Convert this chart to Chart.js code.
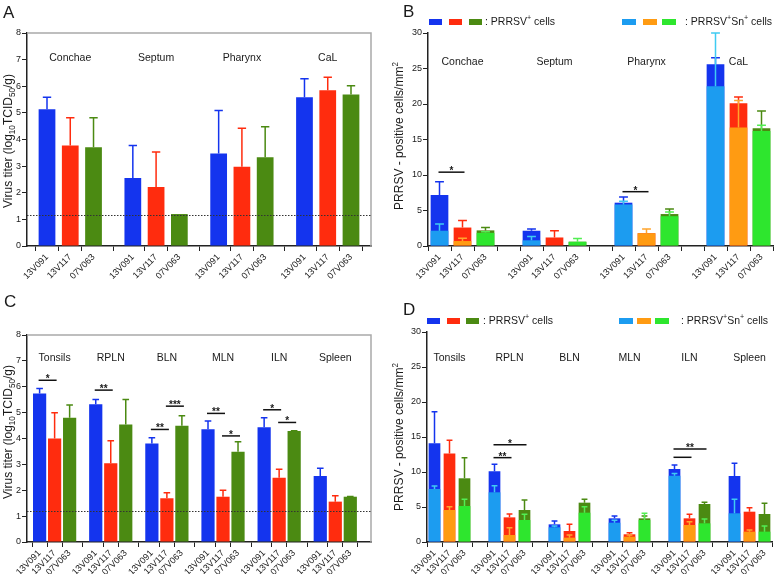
<!DOCTYPE html>
<html>
<head>
<meta charset="utf-8">
<script src="https://cdn.jsdelivr.net/npm/chart.js@4.4.0/dist/chart.umd.min.js"></script>
<style>
  body { margin: 0; background: #fff; }
  #fig { position: relative; width: 778px; height: 574px; overflow: hidden; background: #fff; }
  .pane { position: absolute; }
</style>
</head>
<body>
<div id="fig">
  <div class="pane" style="left:0;top:0;width:390px;height:285px"><canvas id="cA"></canvas></div>
  <div class="pane" style="left:390px;top:0;width:388px;height:285px"><canvas id="cB"></canvas></div>
  <div class="pane" style="left:0;top:285px;width:390px;height:289px"><canvas id="cC"></canvas></div>
  <div class="pane" style="left:390px;top:285px;width:388px;height:289px"><canvas id="cD"></canvas></div>
</div>
<script>
var FONT = "'Liberation Sans', Arial, sans-serif";
var INK = '#1a1a1a';

var strains = ['13V091', '13V117', '07V063'];
var nasalSites = ['Conchae', 'Septum', 'Pharynx', 'CaL'];
var lymphSites = ['Tonsils', 'RPLN', 'BLN', 'MLN', 'ILN', 'Spleen'];

// A - virus titer in nasal tissues (mean and top of the SD whisker)
var titerNasal    = [[5.14, 3.77, 3.71], [2.55, 2.22, 1.2], [3.47, 2.98, 3.33], [5.59, 5.85, 5.69]];
var titerNasalTop = [[5.59, 4.82, 4.82], [3.77, 3.53, null], [5.09, 4.42, 4.48], [6.28, 6.34, 6.02]];

// B - PRRSV+ cells and PRRSV+Sn+ cells in nasal tissues
var cellsNasal    = [[7.2, 2.6, 2.2], [2.15, 1.2, 0.6], [6.1, 1.8, 4.5], [25.6, 20.1, 16.6]];
var cellsNasalTop = [[9.05, 3.6, 2.6], [2.4, 2.15, null], [6.9, null, 5.2], [26.5, 21.0, 19.0]];
var snNasal       = [[2.15, 0.7, 1.85], [0.8, 0, 0.6], [5.85, 1.8, 4.2], [22.5, 16.7, 16.2]];
var snNasalTop    = [[3.1, 1.1, 2.0], [1.35, null, 1.05], [6.3, 2.4, 4.8], [30, 20.5, 17.0]];

// C - virus titer in lymphoid tissues
var titerLymph    = [[5.74, 4.0, 4.8], [5.32, 3.04, 4.54], [3.81, 1.69, 4.49], [4.36, 1.75, 3.49], [4.43, 2.48, 4.29], [2.55, 1.56, 1.75]];
var titerLymphTop = [[5.93, 5.0, 5.29], [5.51, 3.91, 5.51], [4.03, 1.9, 4.88], [4.68, 2.0, 3.87], [4.8, 2.81, 4.3], [2.85, 1.79, 1.76]];

// D - PRRSV+ cells and PRRSV+Sn+ cells in lymphoid tissues
var cellsLymph    = [[14.1, 12.65, 9.1], [10.1, 3.52, 4.57], [2.52, 1.57, 5.62], [3.38, 1.1, 3.38], [10.43, 3.38, 5.43], [9.43, 4.33, 4.0]];
var cellsLymphTop = [[18.6, 14.55, 12.05], [11.1, 4.0, 6.0], [3.0, 2.52, 6.1], [3.71, 1.33, 3.7], [11.0, 3.95, 5.67], [11.24, 4.9, 5.52]];
var snLymph       = [[7.57, 4.57, 5.14], [7.1, 1.0, 3.14], [2.1, 0.62, 4.19], [2.76, 0.76, 3.14], [9.48, 2.43, 2.67], [4.1, 1.48, 1.48]];
var snLymphTop    = [[8.0, 5.05, 6.1], [8.05, 2.05, 3.95], [2.3, 1.0, 5.05], [3.1, 1.0, 4.1], [9.8, 2.9, 3.29], [6.1, 1.7, 2.28]];

var detectionLimit = 1.18;

// significance: [group, from strain, to strain, y level, stars]
var sigB = [[0, 0, 1, 10.4, '*'], [2, 0, 1, 7.65, '*']];
var sigC = [[0, 0, 1, 6.25, '*'], [1, 0, 1, 5.87, '**'], [2, 0, 1, 4.35, '**'], [2, 1, 2, 5.25, '***'],
            [3, 0, 1, 4.97, '**'], [3, 1, 2, 4.1, '*'], [4, 0, 1, 5.11, '*'], [4, 1, 2, 4.62, '*']];
var sigD = [[1, 0, 1, 12.05, '**'], [1, 0, 2, 13.9, '*'], [4, 0, 1, 12.1, ''], [4, 0, 2, 13.3, '**']];

var darkCol  = ['#1434ee', '#ff2c0e', '#4b8a12'];
var lightCol = ['#1c9cf0', '#ff9b12', '#2ee62e'];
var lightErr = ['#3fcbf2', '#ffa52e', '#52ee52'];

function flat(groups, period) {
  var out = [];
  groups.forEach(function (g, gi) {
    g.forEach(function (v, si) { out.push({ x: gi * period + si, y: v }); });
  });
  return out;
}
function flatTop(groups) {
  var out = [];
  groups.forEach(function (g) { g.forEach(function (v) { out.push(v); }); });
  return out;
}
function repeatCols(cols, n) {
  var out = [];
  for (var i = 0; i < n; i++) out = out.concat(cols);
  return out;
}

function richText(ctx, parts, x, y, size, align, vertical) {
  ctx.save();
  ctx.translate(x, y);
  if (vertical) ctx.rotate(-Math.PI / 2);
  var segs = parts.map(function (p) {
    var t = typeof p === 'string' ? p : p[0];
    var k = typeof p === 'string' ? '' : p[1];
    var fs = k ? size * 0.68 : size;
    ctx.font = fs + 'px ' + FONT;
    return { t: t, k: k, fs: fs, w: ctx.measureText(t).width };
  });
  var total = 0;
  segs.forEach(function (g) { total += g.w; });
  var cx = align === 'center' ? -total / 2 : 0;
  ctx.textBaseline = 'middle';
  ctx.textAlign = 'left';
  ctx.fillStyle = INK;
  segs.forEach(function (g) {
    ctx.font = g.fs + 'px ' + FONT;
    var dy = g.k === 'sub' ? size * 0.32 : (g.k === 'sup' ? -size * 0.33 : 0);
    ctx.fillText(g.t, cx, dy);
    cx += g.w;
  });
  ctx.restore();
}

function decor(o) {
  return {
    id: 'decor',
    afterDatasetsDraw: function (chart) {
      var ctx = chart.ctx, a = chart.chartArea, xs = chart.scales.x, ys = chart.scales.y;
      ctx.save();
      if (o.frame) {
        ctx.strokeStyle = '#a9a9a9';
        ctx.lineWidth = 1.5;
        ctx.beginPath();
        ctx.moveTo(a.left, a.top); ctx.lineTo(a.right, a.top); ctx.lineTo(a.right, a.bottom);
        ctx.stroke();
      }
      if (o.limit) {
        var ly = Math.round(ys.getPixelForValue(o.limit)) + 0.5;
        ctx.strokeStyle = '#333';
        ctx.lineWidth = 1;
        ctx.setLineDash([1.5, 1.5]);
        ctx.beginPath(); ctx.moveTo(a.left, ly); ctx.lineTo(a.right, ly); ctx.stroke();
        ctx.setLineDash([]);
      }
      // error whiskers
      o.err.forEach(function (e) {
        var meta = chart.getDatasetMeta(e.ds);
        meta.data.forEach(function (bar, i) {
          var top = e.top[i];
          if (top == null) return;
          var yt = ys.getPixelForValue(Math.min(top, ys.max));
          var cap = bar.width * 0.5;
          ctx.strokeStyle = e.colors[i % 3];
          ctx.lineWidth = 1.5;
          ctx.beginPath();
          ctx.moveTo(bar.x, bar.y); ctx.lineTo(bar.x, yt);
          ctx.moveTo(bar.x - cap / 2, yt); ctx.lineTo(bar.x + cap / 2, yt);
          ctx.stroke();
        });
      });
      // tissue names
      ctx.fillStyle = INK;
      ctx.font = '10.5px ' + FONT;
      ctx.textAlign = 'center';
      ctx.textBaseline = 'middle';
      o.sites.forEach(function (s, gi) {
        ctx.fillText(s, xs.getPixelForValue(gi * o.period + 1), ys.getPixelForValue(o.siteY));
      });
      // significance bars
      (o.sig || []).forEach(function (s) {
        var x0 = xs.getPixelForValue(s[0] * o.period + s[1]) - 1;
        var x1 = xs.getPixelForValue(s[0] * o.period + s[2]) + 2;
        var yy = ys.getPixelForValue(s[3]);
        ctx.strokeStyle = '#111';
        ctx.lineWidth = 1.5;
        ctx.beginPath(); ctx.moveTo(x0, yy); ctx.lineTo(x1, yy); ctx.stroke();
        if (s[4]) {
          ctx.font = 'bold 10px ' + FONT;
          ctx.textBaseline = 'alphabetic';
          ctx.fillText(s[4], (x0 + x1) / 2, yy + 2);
        }
      });
      // legend boxes
      if (o.legend) {
        var L = o.legend;
        L.left.forEach(function (px, i) { ctx.fillStyle = darkCol[i]; ctx.fillRect(px, L.y - 3, 13, 6); });
        L.right.forEach(function (px, i) { ctx.fillStyle = lightCol[i]; ctx.fillRect(px, L.y - 3, 14, 6); });
        richText(ctx, [': PRRSV', ['+', 'sup'], ' cells'], L.leftText, L.y, 10.5, 'left', false);
        richText(ctx, [': PRRSV', ['+', 'sup'], 'Sn', ['+', 'sup'], ' cells'], L.rightText, L.y, 10.5, 'left', false);
      }
      // panel letter and y title
      ctx.fillStyle = INK;
      ctx.font = '17px ' + FONT;
      ctx.textAlign = 'left';
      ctx.textBaseline = 'alphabetic';
      ctx.fillText(o.letter[0], o.letter[1], o.letter[2]);
      richText(ctx, o.title, o.titleX, o.titleY, 12, 'center', true);
      ctx.restore();
    }
  };
}

function makePanel(id, o) {
  var n = o.sites.length;
  var tickVals = [], tickText = [];
  for (var g = 0; g < n; g++) {
    for (var s = 0; s < 3; s++) { tickVals.push(g * o.period + s); tickText.push(strains[s]); }
    if (o.separators && g < n - 1) { tickVals.push(g * o.period + 3); tickText.push(''); }
  }
  var datasets = o.datasets.map(function (d) {
    return {
      data: flat(d.values, o.period),
      backgroundColor: repeatCols(d.colors, n),
      borderWidth: 0,
      grouped: false,
      categoryPercentage: 1,
      barPercentage: o.barRatio
    };
  });
  var axisFont = { size: 9, family: FONT };
  return new Chart(document.getElementById(id), {
    type: 'bar',
    data: { datasets: datasets },
    options: {
      responsive: true,
      maintainAspectRatio: false,
      animation: false,
      layout: { padding: { left: 0, top: o.top, right: o.right, bottom: 0 } },
      plugins: { legend: { display: false }, tooltip: { enabled: false } },
      scales: {
        x: {
          type: 'linear', min: o.xmin, max: o.xmax, offset: false, z: 1,
          afterBuildTicks: function (sc) { sc.ticks = tickVals.map(function (v) { return { value: v }; }); },
          afterFit: function (sc) { sc.height = o.xh; },
          ticks: {
            autoSkip: false, minRotation: 45, maxRotation: 45, padding: 1,
            font: axisFont, color: INK,
            callback: function (v, i) { return tickText[i]; }
          },
          grid: { drawOnChartArea: false, drawTicks: true, tickLength: 5, color: '#222', lineWidth: 1 },
          border: { color: '#222', width: 1.5 }
        },
        y: {
          min: 0, max: o.ymax, z: 1,
          afterFit: function (sc) { sc.width = o.yw; },
          ticks: { stepSize: o.step, font: axisFont, color: INK, padding: 1 },
          grid: { drawOnChartArea: false, drawTicks: true, tickLength: 5, color: '#222', lineWidth: 1 },
          border: { color: '#222', width: 1.5 }
        }
      }
    },
    plugins: [decor({
      frame: o.frame, limit: o.limit, sites: o.sites, period: o.period, siteY: o.siteY,
      sig: o.sig, legend: o.legend, letter: o.letter, title: o.title, titleX: o.titleX, titleY: o.titleY,
      err: o.datasets.slice().reverse().map(function (d, k) {
        return { ds: o.datasets.length - 1 - k, top: flatTop(d.tops), colors: d.errColors };
      })
    })]
  });
}

var titerTitle = ['Virus titer (log', ['10', 'sub'], 'TCID', ['50', 'sub'], '/g)'];
var cellTitle = ['PRRSV - positive cells/mm', ['2', 'sup']];

makePanel('cA', {
  sites: nasalSites, period: 3.69, xmin: -0.86, xmax: 13.93, ymax: 8, step: 1,
  top: 33, right: 19, yw: 27, xh: 39, barRatio: 0.72, frame: true, limit: detectionLimit, siteY: 7.07,
  letter: ['A', 3, 18], title: titerTitle, titleX: 9, titleY: 141,
  datasets: [{ values: titerNasal, tops: titerNasalTop, colors: darkCol, errColors: darkCol }]
});

makePanel('cB', {
  sites: nasalSites, period: 4, xmin: -0.5, xmax: 14.5, ymax: 30, step: 5, separators: true,
  top: 33, right: 5, yw: 38, xh: 39, barRatio: 0.77, siteY: 25.9, sig: sigB,
  letter: ['B', 13, 17], title: cellTitle, titleX: 10, titleY: 136,
  legend: { y: 22, left: [39, 59, 79], leftText: 95, right: [232, 253, 272], rightText: 295 },
  datasets: [
    { values: snNasal, tops: snNasalTop, colors: lightCol, errColors: lightErr },
    { values: cellsNasal, tops: cellsNasalTop, colors: darkCol, errColors: darkCol }
  ]
});

makePanel('cC', {
  sites: lymphSites, period: 3.74, xmin: -0.84, xmax: 22.08, ymax: 8, step: 1,
  top: 50, right: 19, yw: 27, xh: 32, barRatio: 0.88, frame: true, limit: detectionLimit, siteY: 7.09, sig: sigC,
  letter: ['C', 4, 22], title: titerTitle, titleX: 9, titleY: 147,
  datasets: [{ values: titerLymph, tops: titerLymphTop, colors: darkCol, errColors: darkCol }]
});

makePanel('cD', {
  sites: lymphSites, period: 4, xmin: -0.5, xmax: 22.5, ymax: 30, step: 5, separators: true,
  top: 47, right: 6, yw: 37, xh: 32, barRatio: 0.78, siteY: 26.2, sig: sigD,
  letter: ['D', 13, 30], title: cellTitle, titleX: 10, titleY: 152,
  legend: { y: 36, left: [37, 57, 76], leftText: 93, right: [229, 247, 265], rightText: 291 },
  datasets: [
    { values: snLymph, tops: snLymphTop, colors: lightCol, errColors: lightErr },
    { values: cellsLymph, tops: cellsLymphTop, colors: darkCol, errColors: darkCol }
  ]
});
</script>
</body>
</html>
